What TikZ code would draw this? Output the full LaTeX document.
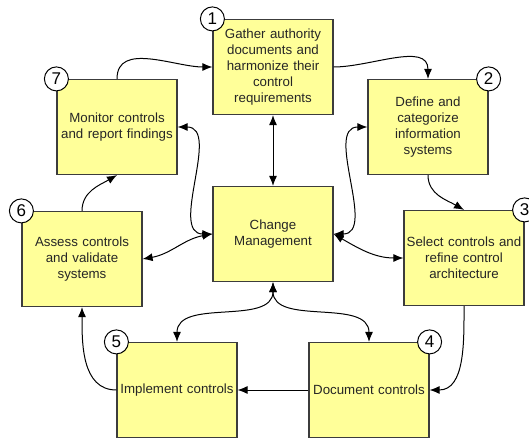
\documentclass[tikz,border=0pt]{standalone}
\usepackage{fontspec}
\setmainfont{Liberation Sans}
\usetikzlibrary{arrows.meta}
\definecolor{boxfill}{RGB}{255,255,153}
\definecolor{boxline}{RGB}{60,60,60}
\tikzstyle{task} = [rectangle, draw=boxline, line width=1.2pt, fill=boxfill, minimum width=120pt, minimum height=95pt, text width=116pt, align=center, inner sep=0pt, text=black!85, font=\fontsize{13.3}{16}\selectfont]
\tikzstyle{num} = [circle, draw, line width=1pt, fill=white, minimum size=24pt, inner sep=0pt, font=\fontsize{17}{17}\selectfont]
\tikzstyle{arrow} = [line width=1pt, ->, >={Latex[length=10pt,width=8pt]}]
\tikzstyle{twoway} = [line width=1pt, <->, >={Latex[length=10pt,width=8pt]}]

\begin{document}
\begin{tikzpicture}[x=1pt, y=-1pt]
    \useasboundingbox (0,0) rectangle (529,438);
    \node [task] at (273,67) (gather) {Gather authority\\documents and\\harmonize their\\control\\requirements};
    \node [task] at (428,127) (define) {Define and\\categorize\\information\\systems};
    \node [task] at (464,258) (select) {Select controls and\\refine control\\architecture};
    \node [task] at (369,390) (document) {Document controls};
    \node [task] at (177,390) (implement) {Implement controls};
    \node [task] at (82,259) (assess) {Assess controls\\and validate\\systems};
    \node [task] at (117,127) (monitor) {Monitor controls\\and report findings};
    \node [task] at (273,234) (change) {Change\\Management};
    \node [num] at (gather.north west) (n1) {1};
    \node [num] at (define.north east) (n2) {2};
    \node [num] at (select.north east) (n3) {3};
    \node [num] at (document.north east) (n4) {4};
    \node [num] at (implement.north west) (n5) {5};
    \node [num] at (assess.north west) (n6) {6};
    \node [num] at (monitor.north west) (n7) {7};
    \draw [arrow] (monitor.north) to[out=90, in=180] (gather.west);
    \draw [arrow] (gather.east) to[out=0, in=90] (define.north);
    \draw [arrow] (define.south) to[out=-90, in=150] (select.north);
    \draw [arrow] (select.south) to[out=-90, in=0] (document.east);
    \draw [arrow] (document.west) -- (implement.east);
    \draw [arrow] (implement.west) to[out=180, in=-90] (assess.south);
    \draw [arrow] (assess.north) to[out=90, in=-150] (monitor.south);
    \draw [twoway] (gather.south) -- (change.north);
    \draw [twoway] (monitor.east) to[out=0, in=180] (change.west);
    \draw [twoway] (define.west) to[out=180, in=0] (change.east);
    \draw [twoway] (assess.east) to[out=10, in=190] (change.west);
    \draw [twoway] (change.east) to[out=-30, in=180] (select.west);
    \draw [twoway] (change.south) to[out=-90, in=90] (implement.north);
    \draw [twoway] (change.south) to[out=-90, in=90] (document.north);
\end{tikzpicture}
\end{document}
